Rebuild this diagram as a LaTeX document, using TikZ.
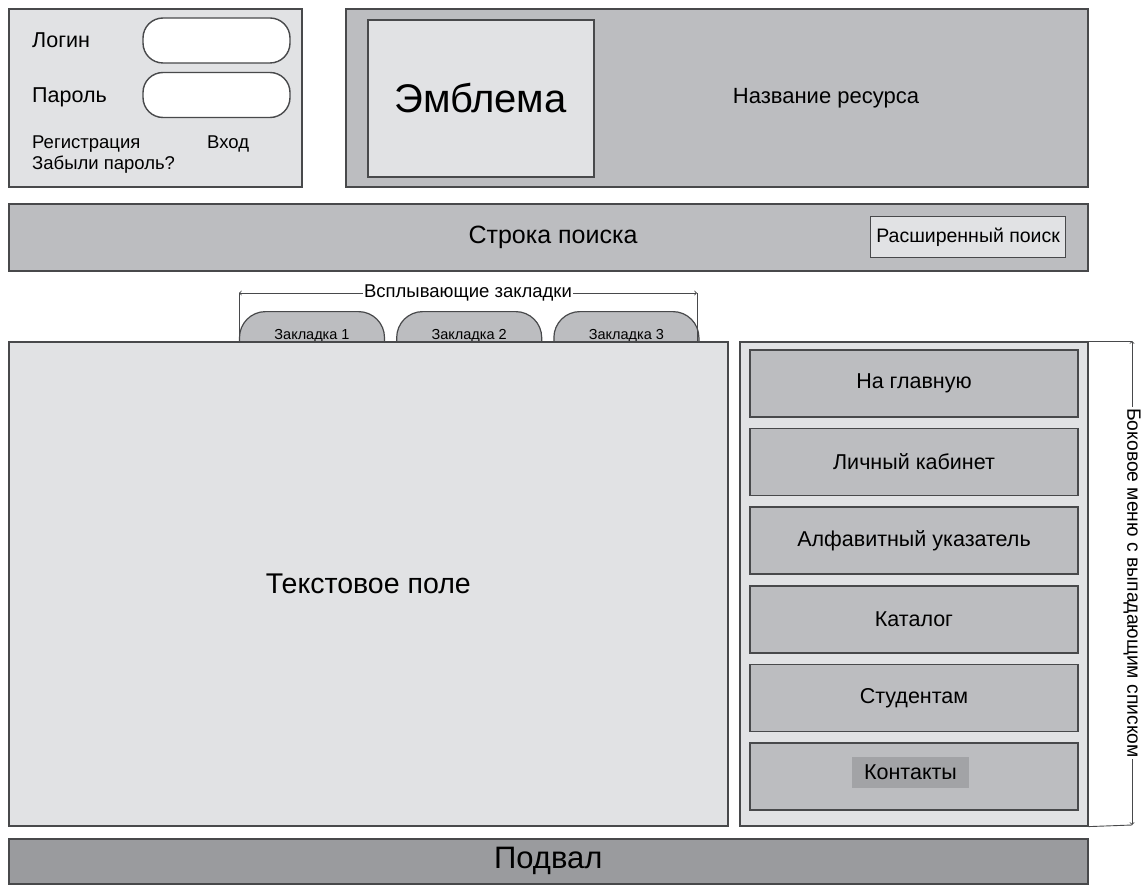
\documentclass[tikz,border=0pt]{standalone}
\usepackage{fontspec}
\setmainfont{Liberation Sans}
\usetikzlibrary{arrows,positioning}

\definecolor{lightfill}{HTML}{E1E2E4}
\definecolor{midfill}{HTML}{BCBDC0}
\definecolor{darkfill}{HTML}{9A9B9E}
\definecolor{edgecol}{HTML}{48494B}
\definecolor{hilite}{HTML}{A2A3A6}

\newcommand{\fsz}[1]{\fontsize{#1}{#1}\selectfont}

\begin{document}
\begin{tikzpicture}[x=1pt,y=-1pt,>=to,
  panel/.style={rectangle,draw=edgecol,line width=1.6pt,inner sep=0pt,anchor=north west},
  menu item/.style={rectangle,draw=edgecol,line width=1.6pt,fill=midfill,inner sep=0pt,
    minimum width=328pt,minimum height=67pt,font=\fsz{21.5}},
  field/.style={rectangle,draw=edgecol,line width=1.4pt,fill=white,rounded corners=20pt,
    minimum width=147pt,minimum height=45pt},
  tab/.style={rectangle,draw=edgecol,line width=1.2pt,fill=midfill,rounded corners=26pt,
    inner sep=0pt,minimum width=145pt,text height=28pt,text depth=32pt,font=\fsz{14.5}},
  plain text/.style={inner sep=0pt,anchor=base west},
  dim line/.style={draw=edgecol,line width=0.9pt},
  dim label/.style={fill=white,inner sep=1pt,font=\fsz{18.5}}]

  \useasboundingbox (0,0) rectangle (1142,885);

  % login block
  \node[panel,fill=lightfill,minimum width=293pt,minimum height=178pt] (login) at (8,8) {};
  \node[plain text,font=\fsz{21.5}] (loginlbl) at (32,48) {Логин};
  \node[plain text,font=\fsz{21.5}] (passlbl) at (32,103) {Пароль};
  \node[field] (loginfld) at (216.5,40.5) {};
  \node[field] (passfld) at (216.5,95) {};
  \node[plain text,font=\fsz{18.5}] (register) at (32,149) {Регистрация};
  \node[plain text,font=\fsz{18.5}] (enter) at (207,149) {Вход};
  \node[plain text,font=\fsz{18.5}] (forgot) at (32,170) {Забыли пароль?};

  % header
  \node[panel,fill=midfill,minimum width=742pt,minimum height=178pt] (header) at (345,8) {};
  \node[panel,fill=lightfill,minimum width=226pt,minimum height=157pt,font=\fsz{40}] (emblem) at (367,19) {Эмблема};
  \node[font=\fsz{22}] (sitename) at (826,98) {Название ресурса};

  % search bar
  \node[panel,fill=midfill,minimum width=1079pt,minimum height=67pt] (search) at (8,203) {};
  \node[font=\fsz{25}] (searchlbl) at (553,237) {Строка поиска};
  \node[panel,fill=lightfill,line width=1.2pt,minimum width=195pt,minimum height=41pt,font=\fsz{19.5}] (advsearch) at (870,216) {Расширенный поиск};

  % tabs
  \node[tab,anchor=north] (tab1) at (312,311) {Закладка 1};
  \node[tab,right=11pt of tab1] (tab2) {Закладка 2};
  \node[tab,right=11pt of tab2] (tab3) {Закладка 3};

  % main text area
  \node[panel,fill=lightfill,minimum width=719pt,minimum height=484pt,font=\fsz{28.5}] (text) at (8,341) {Текстовое поле};

  % side menu
  \node[panel,fill=lightfill,minimum width=348pt,minimum height=484pt] (side) at (739,341) {};
  \node[menu item] (m1) at (914,383.5) {На главную};
  \node[menu item,below=10pt of m1] (m2) {Личный кабинет};
  \node[menu item,below=10pt of m2] (m3) {Алфавитный указатель};
  \node[menu item,below=10pt of m3] (m4) {Каталог};
  \node[menu item,below=10pt of m4] (m5) {Студентам};
  \node[menu item,below=10pt of m5] (m6) {};
  \node[fill=hilite,inner sep=0pt,minimum width=117pt,minimum height=31pt,font=\fsz{21.5}] (contacts) at (910.5,772.5) {Контакты};

  % footer
  \node[panel,fill=darkfill,minimum width=1079pt,minimum height=45pt,font=\fsz{31}] (footer) at (8,838) {Подвал};

  % dimension marks
  \coordinate (tabsL) at (239,293);
  \coordinate (tabsR) at (697,293);
  \draw[dim line,<->] (tabsL) -- node[dim label] (tabslbl) {Всплывающие закладки} (tabsR);
  \draw[dim line] (tabsL) -- (tabsL |- text.north);
  \draw[dim line] (tabsR) -- (tabsR |- text.north);

  \coordinate (sideT) at (1132,341);
  \coordinate (sideB) at (1132,825);
  \draw[dim line,<->] (sideT) -- node[dim label,rotate=-90,font=\fsz{19.3}] (sidelbl) {Боковое меню с выпадающим списком} (sideB);
  \draw[dim line] (side.north east) -- (sideT);
  \draw[dim line] (side.south east) -- (sideB);
\end{tikzpicture}
\end{document}
